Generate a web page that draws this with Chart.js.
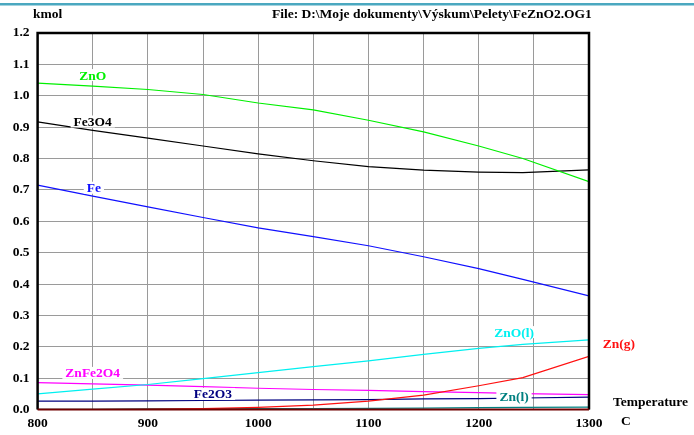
<!DOCTYPE html>
<html>
<head>
<meta charset="utf-8">
<script src="https://cdn.jsdelivr.net/npm/chart.js@4.4.0/dist/chart.umd.min.js"></script>
<style>
  html, body { margin: 0; padding: 0; background: #fff; }
  #wrap { width: 694px; height: 435px; position: relative; }
</style>
</head>
<body>
<div id="wrap"><canvas id="chart"></canvas></div>
<script>
// ---- data (kmol vs temperature, C) ----
const temps    = [800, 850, 900, 950, 1000, 1050, 1100, 1150, 1200, 1240, 1300];
const ZnO      = [1.040, 1.031, 1.020, 1.004, 0.977, 0.955, 0.922, 0.885, 0.840, 0.800, 0.726];
const Fe3O4    = [0.917, 0.890, 0.865, 0.840, 0.815, 0.793, 0.774, 0.763, 0.757, 0.755, 0.764];
const Fe       = [0.715, 0.680, 0.646, 0.612, 0.579, 0.551, 0.522, 0.487, 0.449, 0.415, 0.362];
const ZnOl     = [0.050, 0.065, 0.080, 0.099, 0.118, 0.137, 0.155, 0.176, 0.195, 0.208, 0.222];
const Zng      = [0.000, 0.000, 0.001, 0.003, 0.007, 0.014, 0.027, 0.046, 0.076, 0.102, 0.170];
const ZnFe2O4  = [0.086, 0.082, 0.078, 0.073, 0.068, 0.064, 0.061, 0.057, 0.054, 0.051, 0.048];
const Fe2O3    = [0.027, 0.027, 0.028, 0.029, 0.030, 0.031, 0.032, 0.034, 0.035, 0.037, 0.040];
const Znl      = [0.001, 0.001, 0.002, 0.002, 0.003, 0.003, 0.004, 0.005, 0.006, 0.007, 0.008];

const yTicks = [0.0, 0.1, 0.2, 0.3, 0.4, 0.5, 0.6, 0.7, 0.8, 0.9, 1.0, 1.1, 1.2];
const xTickLabels = [800, 900, 1000, 1100, 1200, 1300];

const FONT = "'Liberation Serif', 'Times New Roman', serif";

// series name, values, colour, label anchor (data coords)
const series = [
    { name: "ZnO",     values: ZnO,     color: "#00f000", lx: 850,  ly: 1.066 },
    { name: "Fe3O4",   values: Fe3O4,   color: "#000000", lx: 850,  ly: 0.918 },
    { name: "Fe",      values: Fe,      color: "#1010ff", lx: 851,  ly: 0.707 },
    { name: "ZnO(l)",  values: ZnOl,    color: "#00f0f0", lx: 1232, ly: 0.247 },
    { name: "Zn(g)",   values: Zng,     color: "#ff1010", lx: 1327, ly: 0.209 },
    { name: "ZnFe2O4", values: ZnFe2O4, color: "#ff00ff", lx: 850,  ly: 0.117 },
    { name: "Fe2O3",   values: Fe2O3,   color: "#000080", lx: 959,  ly: 0.050 },
    { name: "Zn(l)",   values: Znl,     color: "#008080", lx: 1232, ly: 0.043 },
];

// =========================
// PLUGIN: frame, labels, titles
// =========================
const decorations = {
    id: "decorations",
    afterDatasetsDraw(chart) {
        const { ctx, chartArea: a, scales } = chart;
        ctx.save();

        // series labels with white boxes
        ctx.font = "bold 13.5px " + FONT;
        ctx.textAlign = "center";
        ctx.textBaseline = "middle";
        series.forEach((s) => {
            const px = scales.x.getPixelForValue(s.lx);
            const py = scales.y.getPixelForValue(s.ly);
            const w = ctx.measureText(s.name).width;
            ctx.fillStyle = "#fff";
            ctx.fillRect(px - w / 2 - 3, py - 6, w + 6, 12);
            ctx.fillStyle = s.color;
            ctx.fillText(s.name, px, py + 1);
        });

        // frame
        ctx.strokeStyle = "#000";
        ctx.lineWidth = 2.5;
        ctx.beginPath();
        ctx.moveTo(a.left, a.bottom);
        ctx.lineTo(a.left, a.top);
        ctx.lineTo(a.right, a.top);
        ctx.lineTo(a.right, a.bottom);
        ctx.stroke();
        ctx.strokeStyle = "#700000";
        ctx.lineWidth = 2;
        ctx.beginPath();
        ctx.moveTo(a.left, a.bottom);
        ctx.lineTo(a.right, a.bottom);
        ctx.stroke();
        ctx.restore();
    },
    afterDraw(chart) {
        const { ctx } = chart;
        ctx.save();
        ctx.fillStyle = "#4aa8c0";
        ctx.fillRect(0, 3, chart.width, 2.5);

        ctx.fillStyle = "#000";
        ctx.font = "bold 13.5px " + FONT;
        ctx.textBaseline = "middle";
        ctx.textAlign = "left";
        ctx.fillText("kmol", 33, 14.5);
        ctx.fillText("File: D:\\Moje dokumenty\\Výskum\\Pelety\\FeZnO2.OG1", 272, 14.5);
        ctx.fillText("Temperature", 613, 403);
        ctx.fillText("C", 621, 422);
        ctx.restore();
    },
};

// =========================
// CHART
// =========================
const ctx = document.getElementById("chart").getContext("2d");

new Chart(ctx, {
    type: "line",
    data: {
        datasets: series.map((s) => ({
            label: s.name,
            data: temps.map((t, i) => ({ x: t, y: s.values[i] })),
            borderColor: s.color,
            borderWidth: 1.2,
            pointRadius: 0,
            tension: 0,
            fill: false,
        })),
    },
    options: {
        responsive: true,
        maintainAspectRatio: false,
        animation: false,
        layout: { padding: { left: 0, top: 33, right: 105, bottom: 0 } },
        scales: {
            x: {
                type: "linear",
                min: 800,
                max: 1300,
                afterFit: (scale) => { scale.height = 25.4; },
                afterBuildTicks: (scale) => {
                    scale.ticks = [];
                    for (let v = 800; v <= 1300; v += 50) scale.ticks.push({ value: v });
                },
                ticks: {
                    autoSkip: false,
                    maxRotation: 0,
                    padding: 6,
                    color: "#000",
                    font: { family: FONT, size: 13.5, weight: "bold" },
                    callback: (v) => (xTickLabels.includes(v) ? String(v) : ""),
                },
                grid: { color: "#9a9a9a", lineWidth: 1, drawTicks: false },
                border: { display: false },
            },
            y: {
                min: 0,
                max: 1.2,
                afterFit: (scale) => { scale.width = 37.6; },
                afterBuildTicks: (scale) => {
                    scale.ticks = yTicks.map((v) => ({ value: v }));
                },
                ticks: {
                    padding: 8,
                    color: "#000",
                    font: { family: FONT, size: 13.5, weight: "bold" },
                    callback: (v) => v.toFixed(1),
                },
                grid: { color: "#9a9a9a", lineWidth: 1, drawTicks: false },
                border: { display: false },
            },
        },
        plugins: {
            legend: { display: false },
            tooltip: { enabled: false },
        },
    },
    plugins: [decorations],
});
</script>
</body>
</html>
